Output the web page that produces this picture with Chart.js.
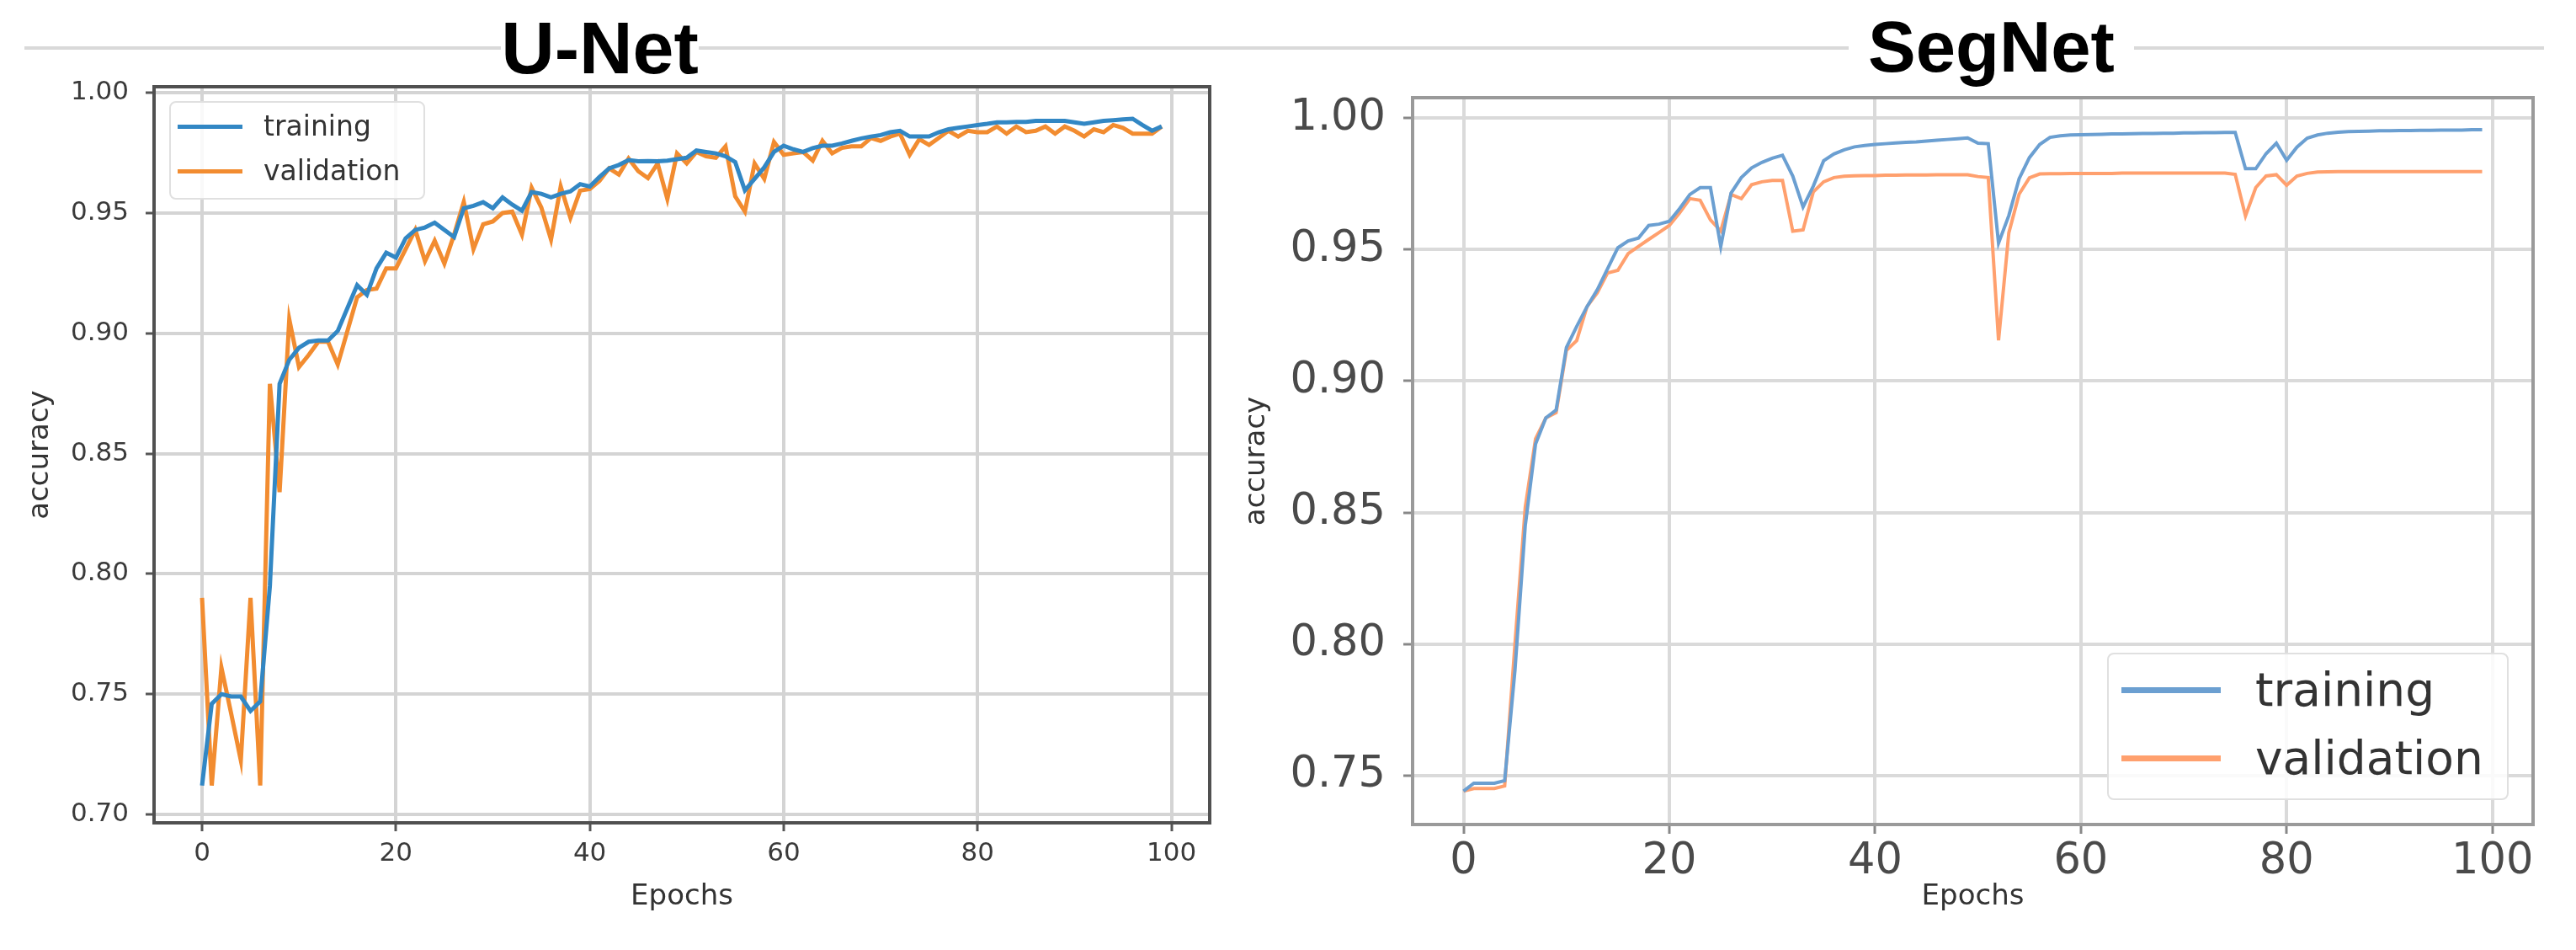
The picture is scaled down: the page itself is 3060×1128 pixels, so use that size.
<!DOCTYPE html>
<html><head><meta charset="utf-8">
<script src="https://cdn.jsdelivr.net/npm/chart.js@4.4.1/dist/chart.umd.min.js"></script>
<style>
html,body{margin:0;padding:0;background:#fff;}
body{width:3060px;height:1128px;position:relative;overflow:hidden;font-family:"DejaVu Sans",sans-serif;}
.rule{position:absolute;left:29px;top:55px;width:2993px;height:4px;background:#d9d9d9;}
.title{position:absolute;background:#fff;color:#000;font-family:"Liberation Sans",Arial,sans-serif;font-weight:bold;text-align:center;white-space:nowrap;}
#cL{position:absolute;left:0;top:0;}
#cR{position:absolute;left:1460px;top:0;}
.legend{position:absolute;background:rgba(255,255,255,0.85);border:2px solid #e0e0e0;border-radius:8px;box-sizing:border-box;}
.lgtext{position:absolute;white-space:nowrap;font-family:"DejaVu Sans",sans-serif;}
.lgline{position:absolute;}
</style></head>
<body>
<div class="rule"></div>
<div class="title" style="left:595px;top:13px;width:235px;height:78px;font-size:88px;line-height:88px;">U-Net</div>
<div class="title" style="left:2196px;top:13px;width:339px;height:92px;font-size:85px;line-height:85px;">SegNet</div>
<canvas id="cL" width="1460" height="1128" style="width:1460px;height:1128px"></canvas>
<canvas id="cR" width="1600" height="1128" style="width:1600px;height:1128px"></canvas>
<div class="legend" id="lgL"></div>
<div class="legend" id="lgR"></div>
<script>
// ---------- data ----------
const epochs = [0,1,2,3,4,5,6,7,8,9,10,11,12,13,14,15,16,17,18,19,20,21,22,23,24,25,26,27,28,29,30,31,32,33,34,35,36,37,38,39,40,41,42,43,44,45,46,47,48,49,50,51,52,53,54,55,56,57,58,59,60,61,62,63,64,65,66,67,68,69,70,71,72,73,74,75,76,77,78,79,80,81,82,83,84,85,86,87,88,89,90,91,92,93,94,95,96,97,98,99];
const seriesLabels = ['training', 'validation'];
const panelTitles = ['U-Net', 'SegNet'];
const xTicks = [0, 20, 40, 60, 80, 100];
const xTickLabels = ['0', '20', '40', '60', '80', '100'];
const yTicksUNet = [0.70, 0.75, 0.80, 0.85, 0.90, 0.95, 1.00];
const yTickLabelsUNet = ['0.70', '0.75', '0.80', '0.85', '0.90', '0.95', '1.00'];
const yTicksSegNet = [0.75, 0.80, 0.85, 0.90, 0.95, 1.00];
const yTickLabelsSegNet = ['0.75', '0.80', '0.85', '0.90', '0.95', '1.00'];

const unetTrain = [0.712,0.746,0.750,0.749,0.749,0.743,0.747,0.795,0.879,0.889,
0.894,0.8965,0.897,0.897,0.901,0.9105,0.920,0.916,0.927,0.9335,
0.9315,0.9395,0.943,0.944,0.946,0.943,0.940,0.952,0.953,0.9545,
0.952,0.9565,0.9535,0.951,0.9587,0.958,0.9565,0.958,0.959,0.962,
0.961,0.965,0.9686,0.970,0.972,0.9715,0.9716,0.9715,0.9718,0.9724,
0.973,0.976,0.9754,0.9748,0.9736,0.9712,0.9594,0.9642,0.969,0.9754,
0.978,0.9765,0.9754,0.977,0.978,0.978,0.9789,0.980,0.981,0.9818,
0.9824,0.9836,0.9842,0.9818,0.9818,0.9818,0.9836,0.9848,0.9854,0.986,
0.9866,0.9871,0.9877,0.9877,0.9879,0.9879,0.9883,0.9883,0.9883,0.9883,
0.9877,0.9871,0.9877,0.9883,0.9886,0.9889,0.9892,0.9866,0.9842,0.986];
const unetVal = [0.790,0.712,0.761,0.742,0.7225,0.790,0.712,0.879,0.834,0.9058,
0.886,0.891,0.8965,0.8965,0.887,0.901,0.915,0.918,0.9186,0.927,
0.927,0.935,0.943,0.930,0.9385,0.929,0.941,0.9546,0.935,0.9453,
0.9465,0.950,0.9506,0.941,0.9605,0.9523,0.939,0.961,0.948,0.9593,
0.960,0.9634,0.9686,0.966,0.9727,0.9674,0.9645,0.9706,0.9559,0.9748,
0.9706,0.9754,0.9736,0.973,0.9777,0.957,0.9506,0.9706,0.9642,0.9795,
0.9742,0.9748,0.9754,0.9718,0.980,0.9748,0.9771,0.9777,0.9777,0.9812,
0.980,0.9818,0.983,0.9742,0.9807,0.9783,0.9812,0.9842,0.9818,0.9842,
0.9836,0.9836,0.986,0.983,0.986,0.9836,0.9842,0.986,0.983,0.986,
0.9842,0.9818,0.9848,0.9836,0.9866,0.9854,0.983,0.983,0.983,0.986];
const segTrain = [0.744,0.747,0.747,0.747,0.748,0.790,0.845,0.876,0.886,0.889,
0.9128,0.9208,0.9283,0.9347,0.9427,0.9507,0.9533,0.9544,0.9592,0.9597,
0.9608,0.9656,0.971,0.9736,0.9736,0.9512,0.9715,0.9774,0.9811,0.9832,
0.9848,0.9859,0.978,0.9662,0.9742,0.9838,0.9864,0.988,0.9891,0.9896,
0.9900,0.9903,0.9906,0.9908,0.9910,0.9913,0.9916,0.9919,0.9922,0.9925,
0.9905,0.9903,0.9525,0.963,0.977,0.985,0.990,0.9927,0.9933,0.9936,
0.9937,0.9938,0.9939,0.9940,0.9940,0.9941,0.9942,0.9942,0.9943,0.9943,
0.9944,0.9944,0.9945,0.9945,0.9946,0.9946,0.9808,0.9808,0.9865,0.9905,
0.9840,0.9890,0.9924,0.9936,0.9943,0.9947,0.9949,0.9950,0.9951,0.9952,
0.9952,0.9953,0.9953,0.9954,0.9954,0.9955,0.9955,0.9955,0.9956,0.9956];
const segVal = [0.744,0.745,0.745,0.745,0.746,0.800,0.852,0.878,0.886,0.888,
0.9117,0.9154,0.9283,0.9336,0.9411,0.9421,0.9485,0.9512,0.9539,0.9565,
0.9592,0.964,0.9694,0.9688,0.9613,0.9571,0.971,0.9694,0.9747,0.9758,
0.9763,0.9763,0.957,0.9575,0.972,0.9758,0.9774,0.9779,0.9781,0.9782,
0.9782,0.9783,0.9783,0.9784,0.9784,0.9784,0.9785,0.9785,0.9785,0.9785,
0.9778,0.9774,0.9155,0.9564,0.9711,0.9773,0.9788,0.9789,0.9789,0.9790,
0.9790,0.9790,0.9790,0.9790,0.9791,0.9791,0.9791,0.9791,0.9791,0.9791,
0.9791,0.9791,0.9791,0.9791,0.9791,0.9786,0.9628,0.9736,0.978,0.9785,
0.9745,0.978,0.979,0.9795,0.9796,0.9797,0.9797,0.9797,0.9797,0.9797,
0.9797,0.9797,0.9797,0.9797,0.9797,0.9797,0.9797,0.9797,0.9797,0.9797];

// ---------- rendering ----------
Chart.defaults.font.family = '"DejaVu Sans", sans-serif';
Chart.defaults.animation = false;

const framePlugin = {
  id: 'frame',
  afterDatasetsDraw(chart, args, opts) {
    const {ctx, chartArea: a} = chart;
    ctx.save();
    ctx.strokeStyle = opts.color;
    ctx.lineWidth = opts.width;
    ctx.strokeRect(a.left, a.top, a.right - a.left, a.bottom - a.top);
    ctx.restore();
  }
};

function pts(vals) { return vals.map((v, i) => ({x: epochs[i], y: v})); }

function makePanel(id, s) {
  return new Chart(document.getElementById(id), {
    type: 'line',
    data: {
      datasets: [
        {label: seriesLabels[0], data: pts(s.train), borderColor: s.colors[0], borderWidth: s.lw, pointRadius: 0, tension: 0, fill: false},
        {label: seriesLabels[1], data: pts(s.val), borderColor: s.colors[1], borderWidth: s.lw, pointRadius: 0, tension: 0, fill: false}
      ]
    },
    options: {
      responsive: false,
      devicePixelRatio: 1,
      animation: false,
      layout: {padding: {left: 0, top: s.padTop, right: s.padRight, bottom: 0}},
      plugins: {legend: {display: false}, tooltip: {enabled: false}, title: {display: false},
                frame: {color: s.frameColor, width: 4}},
      scales: {
        x: {
          type: 'linear', min: -4.95, max: 103.95,
          afterBuildTicks: sc => { sc.ticks = xTicks.map(v => ({value: v})); },
          afterFit: sc => { sc.height = s.xAxisH; },
          ticks: {color: s.tickColor, font: {size: s.tickSize}, padding: s.xTickPad, maxRotation: 0,
                  callback: v => xTickLabels[xTicks.indexOf(v)]},
          grid: {color: s.gridColor, lineWidth: 4, drawTicks: true, tickLength: s.tl, tickColor: s.tickMarkColor, tickWidth: 3},
          border: {display: false},
          title: {display: true, text: 'Epochs', color: '#333', font: {size: 34}, padding: {top: 0, bottom: 42}}
        },
        y: {
          type: 'linear', min: s.ymin, max: s.ymax,
          afterBuildTicks: sc => { sc.ticks = s.yTicks.map(v => ({value: v})); },
          afterFit: sc => { sc.width = s.yAxisW; },
          ticks: {color: s.tickColor, font: {size: s.tickSize}, padding: s.yTickPad,
                  callback: v => s.yLabels[s.yTicks.indexOf(v)]},
          grid: {color: s.gridColor, lineWidth: 4, drawTicks: true, tickLength: s.tl, tickColor: s.tickMarkColor, tickWidth: 3},
          border: {display: false},
          title: {display: true, text: 'accuracy', color: '#333', font: {size: 34}, padding: {top: s.yTitlePad, bottom: 0}}
        }
      }
    },
    plugins: [framePlugin]
  });
}

const chartL = makePanel('cL', {
  train: unetTrain, val: unetVal, colors: ['#3287c4', '#f28c30'], lw: 5,
  padTop: 103, padRight: 23, xAxisH: 151, yAxisW: 183,
  ymin: 0.6965, ymax: 1.0025, yTicks: yTicksUNet, yLabels: yTickLabelsUNet,
  tickSize: 31, tickColor: '#3a3a3a', tl: 10, xTickPad: 8, yTickPad: 20, yTitlePad: 28,
  gridColor: '#d4d4d4', tickMarkColor: '#555', frameColor: '#505050'
});
const chartR = makePanel('cR', {
  train: segTrain, val: segVal, colors: ['#6b9fd1', '#ffa06e'], lw: 4,
  padTop: 116, padRight: 51, xAxisH: 149, yAxisW: 218,
  ymin: 0.7313, ymax: 1.0078, yTicks: yTicksSegNet, yLabels: yTickLabelsSegNet,
  tickSize: 51, tickColor: '#4a4a4a', tl: 11, xTickPad: 3, yTickPad: 21, yTitlePad: 13,
  gridColor: '#dadada', tickMarkColor: '#888', frameColor: '#9a9a9a'
});

function buildLegend(el, chart, L) {
  el.style.left = L.left + 'px'; el.style.top = L.top + 'px';
  el.style.width = L.width + 'px'; el.style.height = L.height + 'px';
  chart.data.datasets.forEach((ds, i) => {
    const ln = document.createElement('div');
    ln.className = 'lgline';
    ln.style.left = (L.lineX - L.left) + 'px';
    ln.style.width = L.lineLen + 'px';
    ln.style.height = L.lineW + 'px';
    ln.style.top = (L.rows[i] - L.top - L.lineW / 2) + 'px';
    ln.style.background = ds.borderColor;
    el.appendChild(ln);
    const tx = document.createElement('div');
    tx.className = 'lgtext';
    tx.textContent = ds.label;
    tx.style.fontSize = L.font + 'px';
    tx.style.lineHeight = Math.round(L.font * 1.2) + 'px';
    tx.style.color = '#333';
    tx.style.left = (L.textX - L.left) + 'px';
    tx.style.top = (L.rows[i] - L.top - L.font * 0.6) + 'px';
    el.appendChild(tx);
  });
}
buildLegend(document.getElementById('lgL'), chartL, {left: 201, top: 120, width: 304, height: 117, lineX: 209, lineLen: 77, lineW: 5, rows: [148, 201], textX: 311, font: 33});
buildLegend(document.getElementById('lgR'), chartR, {left: 2503, top: 775, width: 477, height: 175, lineX: 2518, lineLen: 118, lineW: 7, rows: [817, 898], textX: 2677, font: 55});
</script>
</body></html>
